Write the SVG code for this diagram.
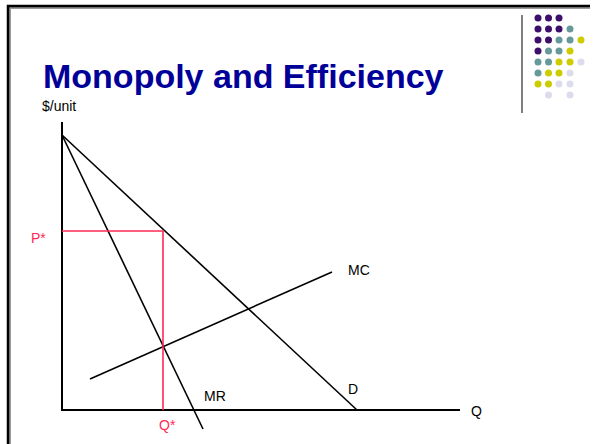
<svg xmlns="http://www.w3.org/2000/svg" width="594" height="444" viewBox="0 0 594 444">
<style>
.ax{stroke:#000;stroke-width:2;fill:none}
.ln{stroke:#000;stroke-width:1.6;fill:none}
.red{stroke:#FF2A55;stroke-width:1.6;fill:none}
.lbl{font-family:"Liberation Sans",Arial,sans-serif;font-size:14px;fill:#000}
.rl{font-family:"Liberation Sans",Arial,sans-serif;font-size:14px;fill:#FF2A55}
.p{fill:#3D0F6B}.t{fill:#669999}.y{fill:#CCCC00}.l{fill:#DCDCEC}
</style>
<rect width="594" height="444" fill="#fff"/>
<g id="frame">
<path d="M9,444 V7 H590" stroke="#999" stroke-width="4" fill="none"/>
<path d="M8,444 V6 H590" stroke="#000" stroke-width="2.5" fill="none"/>
<line x1="522" y1="15" x2="522" y2="113" stroke="#000" stroke-width="1"/>
</g>
<g id="dots">
<circle class="p" cx="538" cy="18" r="3.5"/><circle class="p" cx="548.5" cy="18" r="3.5"/><circle class="p" cx="559" cy="18" r="3.5"/>
<circle class="p" cx="538" cy="29" r="3.5"/><circle class="p" cx="548.5" cy="29" r="3.5"/><circle class="p" cx="559" cy="29" r="3.5"/><circle class="t" cx="570" cy="29" r="3.5"/>
<circle class="p" cx="538" cy="40" r="3.5"/><circle class="p" cx="548.5" cy="40" r="3.5"/><circle class="t" cx="559" cy="40" r="3.5"/><circle class="t" cx="570" cy="40" r="3.5"/><circle class="y" cx="581" cy="40" r="3.5"/>
<circle class="p" cx="538" cy="51" r="3.5"/><circle class="t" cx="548.5" cy="51" r="3.5"/><circle class="t" cx="559" cy="51" r="3.5"/><circle class="y" cx="570" cy="51" r="3.5"/>
<circle class="t" cx="538" cy="62" r="3.5"/><circle class="t" cx="548.5" cy="62" r="3.5"/><circle class="y" cx="559" cy="62" r="3.5"/><circle class="y" cx="570" cy="62" r="3.5"/><circle class="l" cx="581" cy="62" r="3.5"/>
<circle class="t" cx="538" cy="73" r="3.5"/><circle class="y" cx="548.5" cy="73" r="3.5"/><circle class="y" cx="559" cy="73" r="3.5"/><circle class="l" cx="570" cy="73" r="3.5"/>
<circle class="y" cx="538" cy="84" r="3.5"/><circle class="y" cx="548.5" cy="84" r="3.5"/><circle class="l" cx="559" cy="84" r="3.5"/><circle class="l" cx="570" cy="84" r="3.5"/>
<circle class="l" cx="548.5" cy="95" r="3.5"/><circle class="l" cx="570" cy="95" r="3.5"/>
</g>
<g id="title">
<text x="43" y="88" font-family="'Liberation Sans',Arial,sans-serif" font-size="34" font-weight="bold" fill="#000099">Monopoly and Efficiency</text>
</g>
<g id="axes">
<line class="ax" x1="62" y1="122" x2="62" y2="411"/>
<line class="ax" x1="61" y1="410" x2="460" y2="410"/>
<text class="lbl" x="42" y="111">$/unit</text>
<text class="lbl" x="471" y="416">Q</text>
</g>
<g id="connectors">
<line class="ln" x1="62" y1="135" x2="357" y2="410"/>
<line class="ln" x1="62" y1="135" x2="203" y2="429"/>
<line class="ln" x1="90" y1="379" x2="332" y2="272"/>
<polyline class="red" points="62,231 163,231 163,410"/>
</g>
<g id="labels">
<text class="lbl" x="348" y="275">MC</text>
<text class="lbl" x="348" y="394">D</text>
<text class="lbl" x="204" y="401">MR</text>
<text class="rl" x="31" y="243">P*</text>
<text class="rl" x="159" y="430">Q*</text>
</g>
</svg>
